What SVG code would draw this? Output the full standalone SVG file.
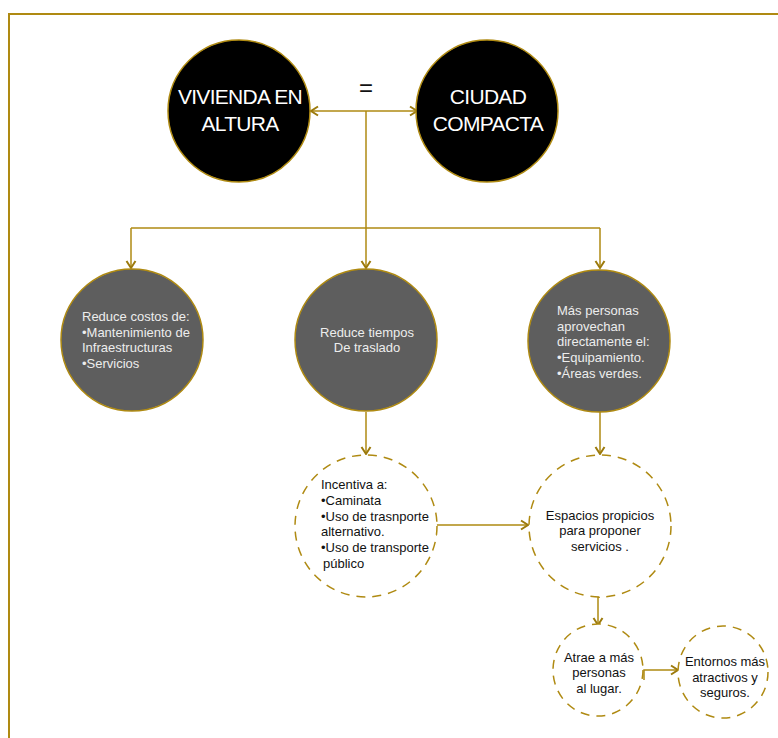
<svg xmlns="http://www.w3.org/2000/svg" width="778" height="738" viewBox="0 0 778 738">
<style>
.frame{fill:#fff;stroke:#AF8A12;stroke-width:2}
.big{fill:#000;stroke:#AF8A12;stroke-width:1.5}
.gray{fill:#5E5E5E;stroke:#AF8A12;stroke-width:1.5}
.dash{fill:#fff;stroke:#AF8A12;stroke-width:1.5;stroke-dasharray:9 7}
.ln{fill:none;stroke:#AF8A12;stroke-width:1.5}
.t{font-family:"Liberation Sans",Arial,sans-serif}
.tt{font-size:21px;fill:#fff;text-anchor:middle;letter-spacing:-0.7px}
.tw{font-size:13px;fill:#EDEDED}
.tb{font-size:13px;fill:#111}
.c{text-anchor:middle}
</style>
<defs>
<marker id="ah" markerWidth="12" markerHeight="12" refX="9" refY="6" orient="auto-start-reverse" markerUnits="userSpaceOnUse">
<path d="M2,1.5 L9,6 L2,10.5" fill="none" stroke="#9C7A0C" stroke-width="2"/>
</marker>
</defs>
<rect class="frame" x="9" y="14" width="800" height="760"/>
<g id="connectors">
<line class="ln" x1="311" y1="111" x2="417" y2="111" marker-start="url(#ah)" marker-end="url(#ah)"/>
<line class="ln" x1="366" y1="111" x2="366" y2="228"/>
<line class="ln" x1="131" y1="228" x2="600" y2="228"/>
<line class="ln" x1="131" y1="228" x2="131" y2="268" marker-end="url(#ah)"/>
<line class="ln" x1="366" y1="228" x2="366" y2="268" marker-end="url(#ah)"/>
<line class="ln" x1="600" y1="228" x2="600" y2="268" marker-end="url(#ah)"/>
<line class="ln" x1="366" y1="412" x2="366" y2="454" marker-end="url(#ah)"/>
<line class="ln" x1="600" y1="412" x2="600" y2="454" marker-end="url(#ah)"/>
<polyline class="ln" points="436,536 436,525 528,525" marker-end="url(#ah)"/>
<polyline class="ln" points="600,597 598,597 598,625" marker-end="url(#ah)"/>
<polyline class="ln" points="644,680 644,670 678,670" marker-end="url(#ah)"/>
</g>
<g id="vivienda">
<circle class="big" cx="239" cy="111" r="71"/>
<text class="t tt" x="240" y="104">VIVIENDA EN</text>
<text class="t tt" x="240" y="131">ALTURA</text>
</g>
<g id="ciudad">
<circle class="big" cx="487" cy="111" r="71"/>
<text class="t tt" x="488" y="104">CIUDAD</text>
<text class="t tt" x="488" y="131">COMPACTA</text>
</g>
<g id="igual">
<text class="t" x="366" y="96" font-size="24" text-anchor="middle" fill="#111">=</text>
</g>
<g id="costos">
<circle class="gray" cx="132" cy="340" r="71"/>
<text class="t tw" x="82" y="321">Reduce costos de:</text>
<text class="t tw" x="82" y="337">•Mantenimiento de</text>
<text class="t tw" x="82" y="352">Infraestructuras</text>
<text class="t tw" x="82" y="368">•Servicios</text>
</g>
<g id="tiempos">
<circle class="gray" cx="366" cy="340" r="71"/>
<text class="t tw c" x="367" y="337">Reduce tiempos</text>
<text class="t tw c" x="367" y="352">De traslado</text>
</g>
<g id="personas">
<circle class="gray" cx="599" cy="341" r="71"/>
<text class="t tw" x="557" y="315">Más personas</text>
<text class="t tw" x="557" y="331">aprovechan</text>
<text class="t tw" x="557" y="346">directamente el:</text>
<text class="t tw" x="557" y="362">•Equipamiento.</text>
<text class="t tw" x="557" y="378">•Áreas verdes.</text>
</g>
<g id="incentiva">
<circle class="dash" cx="366" cy="526" r="71"/>
<text class="t tb" x="321" y="489">Incentiva a:</text>
<text class="t tb" x="321" y="505">•Caminata</text>
<text class="t tb" x="321" y="521">•Uso de trasnporte</text>
<text class="t tb" x="321" y="536">alternativo.</text>
<text class="t tb" x="321" y="552">•Uso de transporte</text>
<text class="t tb" x="323" y="568">público</text>
</g>
<g id="espacios">
<circle class="dash" cx="600" cy="526" r="71"/>
<text class="t tb c" x="600" y="520">Espacios propicios</text>
<text class="t tb c" x="600" y="535">para proponer</text>
<text class="t tb c" x="600" y="551">servicios .</text>
</g>
<g id="atrae">
<ellipse class="dash" cx="598" cy="670" rx="45" ry="46"/>
<text class="t tb c" x="599" y="662">Atrae a más</text>
<text class="t tb c" x="599" y="677">personas</text>
<text class="t tb c" x="599" y="693">al lugar.</text>
</g>
<g id="entornos">
<ellipse class="dash" cx="723" cy="672" rx="45" ry="46"/>
<text class="t tb c" x="725" y="666">Entornos más</text>
<text class="t tb c" x="725" y="682">atractivos y</text>
<text class="t tb c" x="725" y="697">seguros.</text>
</g>
</svg>
